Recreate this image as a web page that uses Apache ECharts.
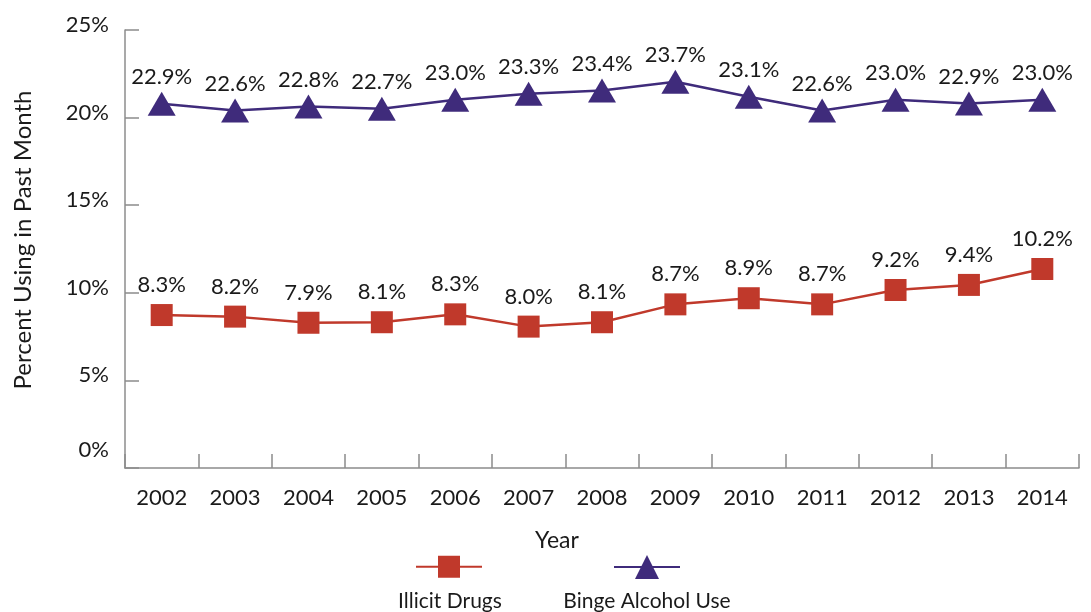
<!DOCTYPE html>
<html>
<head>
<meta charset="utf-8">
<script src="https://cdn.jsdelivr.net/npm/echarts@6/dist/echarts.min.js"></script>
<style>
html,body{margin:0;padding:0;background:#fff;}
#chart{width:1091px;height:612px;}
</style>
</head>
<body>
<div id="chart"></div>
<script>
// Categories
var years = ['2002','2003','2004','2005','2006','2007','2008','2009','2010','2011','2012','2013','2014'];
// Reported values (printed as data labels)
var illicitReported = [8.3, 8.2, 7.9, 8.1, 8.3, 8.0, 8.1, 8.7, 8.9, 8.7, 9.2, 9.4, 10.2];
var bingeReported   = [22.9, 22.6, 22.8, 22.7, 23.0, 23.3, 23.4, 23.7, 23.1, 22.6, 23.0, 22.9, 23.0];
// Values where the marks sit against the reference's y axis
var illicitPlotted = [8.73, 8.64, 8.29, 8.32, 8.77, 8.07, 8.32, 9.34, 9.69, 9.34, 10.16, 10.45, 11.36];
var bingePlotted   = [20.79, 20.41, 20.63, 20.50, 21.02, 21.36, 21.55, 22.05, 21.19, 20.41, 21.02, 20.80, 21.02];
// Y axis ticks
var yTicks = [0, 5, 10, 15, 20, 25];
var seriesNames = ['Illicit Drugs', 'Binge Alcohol Use'];

var RED = '#c0392b', PURPLE = '#3f2b7b', AXIS = '#8c8c8c', FONT = 'Lato', TXT = '#1a1a1a';

var chart = echarts.init(document.getElementById('chart'), null, {renderer: 'canvas'});
var option = {
  backgroundColor: '#fff',
  animation: false,
  textStyle: {fontFamily: FONT},
  grid: {left: 125, right: 12, top: 30, bottom: 144, containLabel: false},
  xAxis: {
    type: 'category',
    data: years,
    boundaryGap: true,
    name: 'Year',
    nameLocation: 'middle',
    nameGap: 61,
    nameTextStyle: {fontSize: 23, color: TXT, fontFamily: FONT, padding: [0, 90, 0, 0]},
    axisLine: {lineStyle: {color: AXIS, width: 1.5}},
    axisTick: {show: true, inside: true, length: 14, lineStyle: {color: AXIS, width: 1.5}},
    axisLabel: {fontSize: 22, color: TXT, margin: 19, fontFamily: FONT}
  },
  yAxis: {
    type: 'value',
    min: yTicks[0],
    max: yTicks[yTicks.length - 1],
    interval: yTicks[1] - yTicks[0],
    name: 'Percent Using in Past Month',
    nameLocation: 'middle',
    nameGap: 90,
    nameTextStyle: {fontSize: 24, color: TXT, fontFamily: FONT, padding: [0, 0, 0, 18]},
    splitLine: {show: false},
    axisLine: {show: true, lineStyle: {color: AXIS, width: 1.5}},
    axisTick: {show: true, inside: true, length: 14, lineStyle: {color: AXIS, width: 1.5}},
    axisLabel: {
      fontSize: 22, color: TXT, margin: 16, fontFamily: FONT,
      formatter: function (v) { return v === 0 ? '{z|0%}' : '{a|' + v + '%}'; },
      rich: {
        a: {fontSize: 22, color: TXT, fontFamily: FONT, padding: [0, 0, 10, 0]},
        z: {fontSize: 22, color: TXT, fontFamily: FONT, padding: [0, 0, 36, 0]}
      }
    }
  },
  legend: [
    {data: [seriesNames[0]], left: 415, top: 553, padding: 0, itemWidth: 66, itemHeight: 27.5, formatter: function () { return ''; }, selectedMode: false},
    {data: [seriesNames[1]], left: 613, top: 552, padding: 0, itemWidth: 66, itemHeight: 30, formatter: function () { return ''; }, selectedMode: false}
  ],
  graphic: [
    {type: 'text', style: {text: seriesNames[0], fontSize: 21, fill: TXT, fontFamily: FONT, textAlign: 'center', textVerticalAlign: 'middle'}, x: 450, y: 601},
    {type: 'text', style: {text: seriesNames[1], fontSize: 21, fill: TXT, fontFamily: FONT, textAlign: 'center', textVerticalAlign: 'middle'}, x: 647, y: 601}
  ],
  series: [
    {
      name: seriesNames[0],
      type: 'line',
      data: illicitPlotted,
      symbol: 'rect',
      symbolSize: 22,
      color: RED,
      lineStyle: {color: RED, width: 2.5},
      itemStyle: {color: RED},
      label: {
        show: true, position: 'top', distance: 8,
        fontSize: 22, color: TXT, fontFamily: FONT,
        formatter: function (p) { return illicitReported[p.dataIndex].toFixed(1) + '%'; }
      }
    },
    {
      name: seriesNames[1],
      type: 'line',
      data: bingePlotted,
      symbol: 'triangle',
      symbolSize: [28, 24],
      color: PURPLE,
      lineStyle: {color: PURPLE, width: 2.5},
      itemStyle: {color: PURPLE},
      label: {
        show: true, position: 'top', distance: 4,
        fontSize: 22, color: TXT, fontFamily: FONT,
        formatter: function (p) { return bingeReported[p.dataIndex].toFixed(1) + '%'; }
      }
    }
  ]
};
chart.setOption(option);
</script>
</body>
</html>
